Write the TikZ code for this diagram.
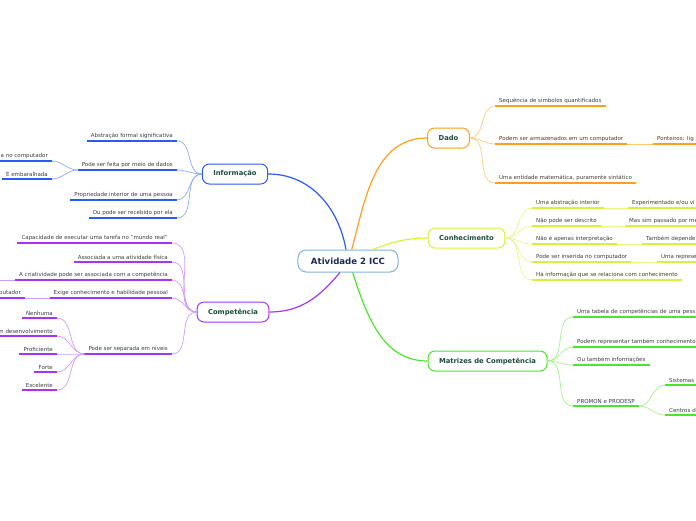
\documentclass[tikz,border=0pt]{standalone}
\usepackage{fontspec}
\setmainfont{DejaVu Sans}
\usetikzlibrary{positioning}

\definecolor{rootline}{HTML}{7AB4E2}
\definecolor{roottext}{HTML}{1B2B4F}
\definecolor{topictext}{HTML}{1E4D3B}
\definecolor{leaftext}{HTML}{3C3C3C}
\definecolor{infoC}{HTML}{2A5BF2}
\definecolor{infoL}{HTML}{8EA8FA}
\definecolor{dadoC}{HTML}{FF9E1F}
\definecolor{dadoL}{HTML}{FFC97A}
\definecolor{conhC}{HTML}{D6F23A}
\definecolor{conhL}{HTML}{E3F78A}
\definecolor{compC}{HTML}{A535F0}
\definecolor{compL}{HTML}{D29BF6}
\definecolor{matrC}{HTML}{4BE62C}
\definecolor{matrL}{HTML}{A8F08F}

\newcommand{\leaffont}{\fontsize{5.5}{6.5}\selectfont}

\begin{document}
\begin{tikzpicture}[x=1pt,y=1pt,
  root/.style={draw=rootline, line width=1pt, rounded corners=8pt, fill=white,
    minimum height=22pt, inner xsep=13pt, text=roottext,
    font=\fontsize{8.6}{10}\selectfont\bfseries},
  topic/.style={draw=#1, line width=1pt, rounded corners=7pt, fill=white,
    minimum height=20pt, inner xsep=11pt, text=topictext,
    font=\fontsize{6.8}{8}\selectfont\bfseries},
  leafL/.style={anchor=south east, inner xsep=4pt, inner ysep=2pt, text=leaftext, font=\leaffont,
    append after command={(\tikzlastnode.south west) edge[draw=#1, line width=1.5pt] (\tikzlastnode.south east)}},
  leafR/.style={anchor=south west, inner xsep=4pt, inner ysep=2pt, text=leaftext, font=\leaffont,
    append after command={(\tikzlastnode.south west) edge[draw=#1, line width=1.5pt] (\tikzlastnode.south east)}},
  cut/.style={text width=#1, align=left},
  branch/.style={draw=#1, line width=1.2pt},
  twig/.style={draw=#1, line width=0.7pt}]
\clip (0,0) rectangle (696,-520);

\node[root] (root) at (348,-261) {Atividade 2 ICC};
\node[topic=infoC] (info) at (235,-174) {Informação};
\node[topic=dadoC] (dado) at (448.5,-138) {Dado};
\node[topic=conhC] (conh) at (466.5,-238) {Conhecimento};
\node[topic=compC] (comp) at (233,-312) {Competência};
\node[topic=matrC] (matr) at (487.5,-361) {Matrizes de Competência};

\draw[branch=infoC] (root.100) to[out=100,in=0] (info.east);
\draw[branch=dadoC] (root.72) to[out=75,in=180] (dado.west);
\draw[branch=conhC] (root.25) to[out=20,in=180] (conh.west);
\draw[branch=compC] (root.235) to[out=230,in=0] (comp.east);
\draw[branch=matrC] (root.292) to[out=-72,in=180] (matr.west);

% Informacao
\node[leafL=infoC] (i1) at (177,-141) {Abstração formal significativa};
\node[leafL=infoC] (i2) at (177,-170) {Pode ser feita por meio de dados};
\node[leafL=infoC] (i3) at (177,-200) {Propriedade interior de uma pessoa};
\node[leafL=infoC] (i4) at (177,-218) {Ou pode ser recebido por ela};
\node[leafL=infoC] (i21) at (52,-161) {a no computador};
\node[leafL=infoC] (i22) at (52,-179) {É embaralhada};
\foreach \n in {i1,i2,i3,i4}
  \draw[twig=infoL] (info.west) to[out=180,in=0] (\n.south east);
\foreach \n in {i21,i22}
  \draw[twig=infoL] (i2.south west) to[out=180,in=0] (\n.south east);

% Competencia
\node[leafL=compC] (c1) at (172,-243) {Capacidade de executar uma tarefa no "mundo real"};
\node[leafL=compC] (c2) at (172,-262) {Associada a uma atividade física};
\node[leafL=compC] (c3) at (172,-280) {A criatividade pode ser associada com a competência};
\node[leafL=compC] (c4) at (172,-298) {Exige conhecimento e habilidade pessoal};
\node[leafL=compC] (c5) at (172,-354) {Pode ser separada em níveis};
\node[leafL=compC] (c41) at (25,-298) {putador};
\coordinate (c31) at (-6,-280);
\node[leafL=compC] (c51) at (57,-318) {Nenhuma};
\node[leafL=compC] (c52) at (57,-336) {m desenvolvimento};
\node[leafL=compC] (c53) at (57,-354) {Proficiente};
\node[leafL=compC] (c54) at (57,-372) {Forte};
\node[leafL=compC] (c55) at (57,-390) {Excelente};
\foreach \n in {c1,c2,c3,c4,c5}
  \draw[twig=compL] (comp.west) to[out=180,in=0] (\n.south east);
\draw[twig=compL] (c3.south west) -- (c31);
\draw[twig=compL] (c4.south west) -- (c41.south east);
\foreach \n in {c51,c52,c53,c54,c55}
  \draw[twig=compL] (c5.south west) to[out=180,in=0] (\n.south east);

% Dado
\node[leafR=dadoC] (d1) at (495,-106) {Sequência de símbolos quantificados};
\node[leafR=dadoC] (d2) at (495,-144) {Podem ser armazenados em um computador};
\node[leafR=dadoC] (d3) at (495,-183) {Uma entidade matemática, puramente sintático};
\node[leafR=dadoC, cut=60pt] (d21) at (653,-144) {Ponteiros: lig};
\foreach \n in {d1,d2,d3}
  \draw[twig=dadoL] (dado.east) to[out=0,in=180] (\n.south west);
\draw[twig=dadoL] (d2.south east) -- (d21.south west);

% Conhecimento
\node[leafR=conhC] (k1) at (532,-208) {Uma abstração interior};
\node[leafR=conhC] (k2) at (532,-226) {Não pode ser descrito};
\node[leafR=conhC] (k3) at (532,-244) {Não é apenas interpretação};
\node[leafR=conhC] (k4) at (532,-262) {Pode ser inserida no computador};
\node[leafR=conhC] (k5) at (532,-280) {Há informação que se relaciona com conhecimento};
\node[leafR=conhC, cut=80pt] (k11) at (628,-208) {Experimentado e/ou vi};
\node[leafR=conhC, cut=80pt] (k21) at (625,-226) {Mas sim passado por me};
\node[leafR=conhC, cut=70pt] (k31) at (642,-244) {Também depende};
\node[leafR=conhC, cut=50pt] (k41) at (657,-262) {Uma represe};
\foreach \n in {k1,k2,k3,k4,k5}
  \draw[twig=conhL] (conh.east) to[out=0,in=180] (\n.south west);
\draw[twig=conhL] (k1.south east) -- (k11.south west);
\draw[twig=conhL] (k2.south east) -- (k21.south west);
\draw[twig=conhL] (k3.south east) -- (k31.south west);
\draw[twig=conhL] (k4.south east) -- (k41.south west);

% Matrizes de Competencia
\node[leafR=matrC, cut=140pt] (m1) at (573,-317) {Uma tabela de competências de uma pess};
\node[leafR=matrC, cut=140pt] (m2) at (573,-347) {Podem representar também conhecimento};
\node[leafR=matrC] (m3) at (573,-365) {Ou também informações};
\node[leafR=matrC] (m4) at (573,-406) {PROMON e PRODESP};
\node[leafR=matrC, cut=40pt] (m41) at (665,-385) {Sistemas};
\node[leafR=matrC, cut=40pt] (m42) at (665,-415) {Centros d};
\foreach \n in {m1,m2,m3,m4}
  \draw[twig=matrL] (matr.east) to[out=0,in=180] (\n.south west);
\foreach \n in {m41,m42}
  \draw[twig=matrL] (m4.south east) to[out=0,in=180] (\n.south west);
\end{tikzpicture}
\end{document}
